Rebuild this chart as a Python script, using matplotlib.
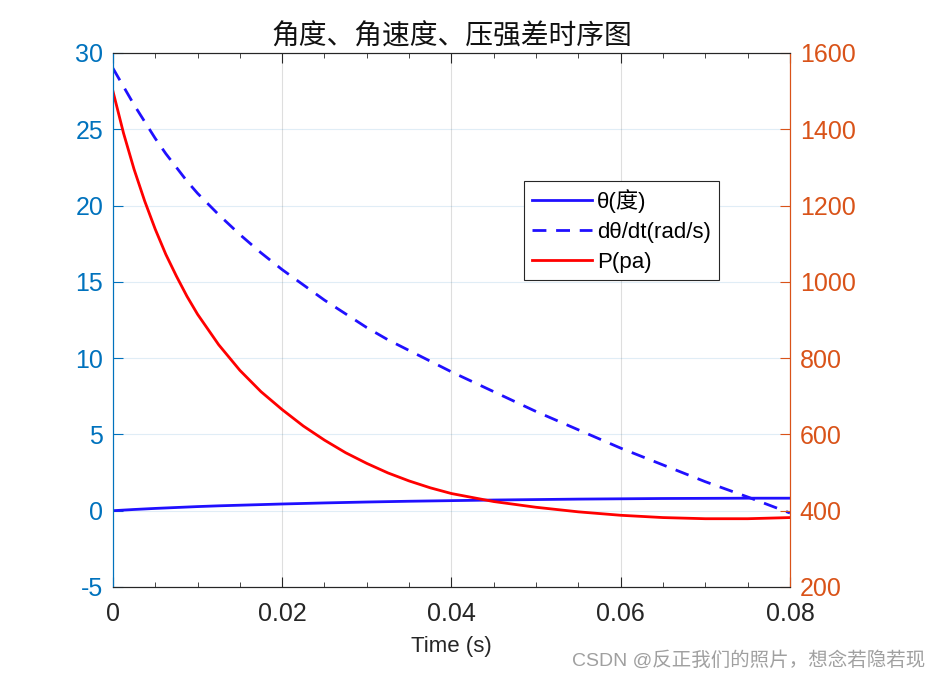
import numpy as np
import matplotlib.pyplot as plt
from matplotlib.ticker import MultipleLocator

# time samples (s)
t = [0, 0.00125, 0.0025, 0.00375, 0.005, 0.00625, 0.0075, 0.00875, 0.01,
     0.0125, 0.015, 0.0175, 0.02, 0.0225, 0.025, 0.0275, 0.03, 0.0325, 0.035, 0.0375,
     0.04, 0.045, 0.05, 0.055, 0.06, 0.065, 0.07, 0.075, 0.08]

# angle (deg)
theta = [0, 0.04, 0.08, 0.115, 0.15, 0.18, 0.21, 0.24, 0.27,
         0.32, 0.36, 0.40, 0.44, 0.475, 0.51, 0.54, 0.57, 0.595, 0.62, 0.64,
         0.66, 0.70, 0.73, 0.76, 0.78, 0.80, 0.81, 0.82, 0.82]

# angular velocity (rad/s)
dtheta = [29.0, 27.8, 26.6, 25.5, 24.4, 23.4, 22.5, 21.6, 20.8,
          19.4, 18.1, 16.9, 15.8, 14.8, 13.8, 12.9, 12.0, 11.2, 10.5, 9.8,
          9.1, 7.8, 6.5, 5.3, 4.1, 3.0, 1.9, 0.9, -0.15]

# pressure difference (pa)
pres = [1500, 1390, 1295, 1212, 1138, 1072, 1015, 962, 915,
        835, 768, 712, 665, 622, 585, 552, 524, 499, 478, 460,
        445, 424, 409, 397, 388, 382, 379, 379, 382]

left_col = '#0072BD'
right_col = '#D95319'
dark = '#262626'
blue = '#2010ff'

plt.rcParams['font.family'] = ['Liberation Sans', 'Noto Sans CJK SC', 'DejaVu Sans']
plt.rcParams['axes.unicode_minus'] = False

fig = plt.figure(figsize=(9.41, 6.79), dpi=100)
ax = fig.add_axes([0.120, 0.1355, 0.7195, 0.7865])
ax2 = ax.twinx()

l1, = ax.plot(t, theta, color=blue, lw=2, label='θ(度)')
l2, = ax.plot(t, dtheta, color=blue, lw=2, ls=(0, (5, 3.5)), label='dθ/dt(rad/s)')
l3, = ax2.plot(t, pres, color='red', lw=2, label='P(pa)')

ax.set_xlim(0, 0.08)
ax.set_ylim(-5, 30)
ax2.set_ylim(200, 1600)
ax.set_xticks([0, 0.02, 0.04, 0.06, 0.08])
ax.set_xticklabels(['0', '0.02', '0.04', '0.06', '0.08'])
ax.xaxis.set_minor_locator(MultipleLocator(0.005))
ax.yaxis.set_major_locator(MultipleLocator(5))
ax2.yaxis.set_major_locator(MultipleLocator(200))

ax.tick_params(axis='x', which='major', direction='in', length=7, top=True,
               labelsize=18, colors=dark, pad=11)
ax.tick_params(axis='x', which='minor', direction='in', length=3.5, top=True, colors=dark)
ax.tick_params(axis='y', direction='in', length=7, labelsize=18, colors=left_col, pad=7)
ax2.tick_params(axis='y', direction='in', length=7, labelsize=18, colors=right_col, pad=7)

for a in (ax, ax2):
    a.spines['top'].set_color(dark)
    a.spines['bottom'].set_color(dark)
    a.spines['left'].set_color(left_col)
    a.spines['right'].set_color(right_col)
    for s in a.spines.values():
        s.set_linewidth(0.8)

ax.grid(axis='x', color=dark, alpha=0.15, lw=0.8)
ax.grid(axis='y', color=left_col, alpha=0.12, lw=0.8)
ax.set_axisbelow(True)

ax.set_xlabel('Time (s)', fontsize=16, color=dark, labelpad=7)
ax.set_title('角度、角速度、压强差时序图', fontsize=20, color='#111111', pad=6,
             family=['Noto Sans CJK SC'])

leg = ax2.legend(handles=[l1, l2, l3], loc='upper left', bbox_to_anchor=(0.607, 0.760),
                 borderaxespad=0, fontsize=16, handlelength=2.7, handletextpad=0.25,
                 labelspacing=0.4, borderpad=0.35, fancybox=False, framealpha=1)
leg.get_frame().set_edgecolor(dark)
leg.get_frame().set_linewidth(0.8)

fig.text(0.983, 0.028, 'CSDN @反正我们的照片，想念若隐若现', ha='right', va='center',
         fontsize=14, color='#a0a0a0', family=['Liberation Sans', 'Noto Sans CJK SC'])

fig.savefig('out.png', dpi=100)
